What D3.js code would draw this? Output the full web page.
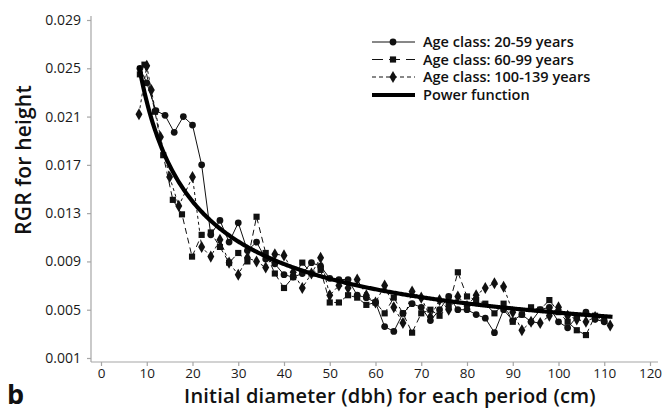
<!DOCTYPE html>
<html>
<head>
<meta charset="utf-8">
<script src="https://cdn.jsdelivr.net/npm/d3@7"></script>
<style>
  html, body { margin: 0; padding: 0; background: #fff; }
  svg { display: block; font-family: "Open Sans", "Noto Sans", sans-serif; }
</style>
</head>
<body>
<svg id="chart" width="670" height="411"></svg>
<script>
// Relative growth rate (RGR) for height against initial diameter, by age class
const xTicks = [0, 10, 20, 30, 40, 50, 60, 70, 80, 90, 100, 110, 120];
const yTicks = [0.001, 0.005, 0.009, 0.013, 0.017, 0.021, 0.025, 0.029];

const dbhYoung = [8.5, 10, 12, 14, 16, 18, 20, 22, 24, 26, 28, 30, 32, 34, 36, 38, 40, 42, 44, 46, 48, 50,
  52, 54, 56, 58, 60, 62, 64, 66, 68, 70, 72, 74, 76, 78, 80, 82, 84, 86, 88, 90, 92, 94, 96, 98, 100,
  102, 104, 106, 108, 110];
const rgrYoung = [0.0250, 0.0238, 0.0215, 0.0211, 0.0197, 0.0210, 0.0203, 0.0170, 0.0112, 0.0124, 0.0106,
  0.0122, 0.0099, 0.0106, 0.0092, 0.0088, 0.0079, 0.0077, 0.0080, 0.0089, 0.0086, 0.0076, 0.0075, 0.0075,
  0.0062, 0.0060, 0.0056, 0.0036, 0.0032, 0.0047, 0.0055, 0.0052, 0.0041, 0.0050, 0.0061, 0.0050, 0.0050,
  0.0046, 0.0043, 0.0031, 0.0050, 0.0041, 0.0046, 0.0040, 0.0050, 0.0052, 0.0040, 0.0035, 0.0044, 0.0048,
  0.0042, 0.0040];

const dbhMiddle = [8.5, 9.5, 11.8, 13.6, 15.7, 17.7, 19.9, 22, 24, 26, 28, 30, 32, 34, 36, 38, 40, 42, 44,
  46, 48, 50, 52, 54, 56, 58, 60, 62, 64, 66, 68, 70, 72, 74, 76, 78, 80, 82, 84, 86, 88, 90, 92, 94, 96,
  98, 100, 102, 104, 106, 108, 110];
const rgrMiddle = [0.0245, 0.0253, 0.0214, 0.0178, 0.0141, 0.0129, 0.0094, 0.0112, 0.0114, 0.0102, 0.0089,
  0.0097, 0.0090, 0.0127, 0.0097, 0.0080, 0.0068, 0.0077, 0.0089, 0.0080, 0.0083, 0.0056, 0.0056, 0.0062,
  0.0060, 0.0054, 0.0056, 0.0047, 0.0060, 0.0047, 0.0031, 0.0047, 0.0050, 0.0045, 0.0053, 0.0081, 0.0061,
  0.0058, 0.0055, 0.0047, 0.0055, 0.0040, 0.0046, 0.0052, 0.0050, 0.0058, 0.0048, 0.0040, 0.0033, 0.0029,
  0.0045, 0.0041];

const dbhOld = [8.3, 10, 11, 13, 15, 17, 20, 22, 24, 26, 28, 30, 32, 34, 36, 38, 40, 42, 44, 46, 48, 50,
  52, 54, 56, 58, 60, 62, 64, 66, 68, 70, 72, 74, 76, 78, 80, 82, 84, 86, 88, 90, 92, 94, 96, 98, 100,
  102, 104, 106, 108, 111.3];
const rgrOld = [0.0212, 0.0252, 0.0232, 0.0193, 0.0160, 0.0136, 0.0160, 0.0102, 0.0094, 0.0108, 0.0089,
  0.0079, 0.0093, 0.0090, 0.0085, 0.0096, 0.0095, 0.0081, 0.0068, 0.0080, 0.0093, 0.0062, 0.0070, 0.0068,
  0.0075, 0.0062, 0.0056, 0.0070, 0.0052, 0.0039, 0.0065, 0.0060, 0.0044, 0.0058, 0.0050, 0.0061, 0.0053,
  0.0062, 0.0068, 0.0072, 0.0069, 0.0048, 0.0033, 0.0040, 0.0039, 0.0045, 0.0052, 0.0045, 0.0042, 0.0040,
  0.0044, 0.0037];

// Fitted power function RGR = a * dbh^b over the observed diameter range
const powerA = 0.104;
const powerB = -0.67;
const powerRange = [8.3, 112];

const seriesNames = ["Age class: 20-59 years", "Age class: 60-99 years", "Age class: 100-139 years", "Power function"];

const svg = d3.select("#chart");
const x = d3.scaleLinear().domain([0, 120]).range([101, 650]);
const y = d3.scaleLinear().domain([0.001, 0.029]).range([358, 20]);
const axisGrey = "#a6a6a6";

// axis lines
svg.append("line").attr("x1", 91).attr("x2", 91).attr("y1", 16).attr("y2", 362)
  .attr("stroke", axisGrey).attr("stroke-width", 1.2);
svg.append("line").attr("x1", 91).attr("x2", 658).attr("y1", 362).attr("y2", 362)
  .attr("stroke", axisGrey).attr("stroke-width", 1.2);

const yAxis = svg.append("g").attr("transform", "translate(91,0)")
  .call(d3.axisLeft(y).tickValues(yTicks).tickFormat(d3.format(".3f")).tickSize(4).tickPadding(6));
const xAxis = svg.append("g").attr("transform", "translate(0,362)")
  .call(d3.axisBottom(x).tickValues(xTicks).tickFormat(d3.format("d")).tickSize(4).tickPadding(2));
[yAxis, xAxis].forEach(g => {
  g.select(".domain").remove();
  g.selectAll(".tick line").attr("stroke", axisGrey).attr("stroke-width", 1.2);
  g.selectAll(".tick text").attr("fill", "#1a1a1a")
    .style("font-family", "'Open Sans', sans-serif");
});
yAxis.selectAll(".tick text").style("font-size", "14px");
xAxis.selectAll(".tick text").style("font-size", "13.5px");

// axis titles
svg.append("text").attr("transform", "translate(31,160) rotate(-90)")
  .attr("text-anchor", "middle").style("font-size", "21px").style("font-weight", 600).attr("fill", "#111")
  .style("letter-spacing", "0.2px")
  .text("RGR for height");
svg.append("text").attr("x", 390).attr("y", 403)
  .attr("text-anchor", "middle").style("font-size", "20px").style("font-weight", 600).attr("fill", "#111")
  .style("letter-spacing", "0.2px")
  .text("Initial diameter (dbh) for each period (cm)");
svg.append("text").attr("x", 7).attr("y", 404)
  .style("font-size", "27px").style("font-weight", 700).attr("fill", "#111").text("b");

// observed series
const lineGen = d3.line().x(d => x(d[0])).y(d => y(d[1]));
const series = [
  { xs: dbhYoung, ys: rgrYoung, dash: null, shape: d3.symbolCircle, size: 36 },
  { xs: dbhMiddle, ys: rgrMiddle, dash: "6,4", shape: d3.symbolSquare, size: 38 },
  { xs: dbhOld, ys: rgrOld, dash: "3,3", shape: d3.symbolDiamond, size: 42 }
];

series.forEach(s => {
  const pts = s.xs.map((v, i) => [v, s.ys[i]]);
  svg.append("path").datum(pts).attr("d", lineGen)
    .attr("fill", "none").attr("stroke", "#111").attr("stroke-width", 1)
    .attr("stroke-dasharray", s.dash);
  svg.append("g").selectAll("path").data(pts).join("path")
    .attr("transform", d => `translate(${x(d[0])},${y(d[1])})`)
    .attr("d", d3.symbol().type(s.shape).size(s.size))
    .attr("fill", "#111");
});

// power function curve
const curveX = d3.range(powerRange[0], powerRange[1] + 0.001, 0.25);
const curvePts = curveX.map(v => [v, powerA * Math.pow(v, powerB)]);
svg.append("path").datum(curvePts).attr("d", lineGen)
  .attr("fill", "none").attr("stroke", "#000").attr("stroke-width", 4.2)
  .attr("stroke-linejoin", "round");

// legend
const legend = svg.append("g");
const legendRows = [42, 59.5, 77, 95];
const legendShapes = [d3.symbolCircle, d3.symbolSquare, d3.symbolDiamond];
const legendDash = [null, "11,6", "4,3"];
legendRows.forEach((ly, i) => {
  if (i < 3) {
    legend.append("line").attr("x1", 372).attr("x2", 415).attr("y1", ly).attr("y2", ly)
      .attr("stroke", "#111").attr("stroke-width", 1).attr("stroke-dasharray", legendDash[i]);
    legend.append("path").attr("transform", `translate(393,${ly})`)
      .attr("d", d3.symbol().type(legendShapes[i]).size(series[i].size)).attr("fill", "#111");
  } else {
    legend.append("line").attr("x1", 372).attr("x2", 415).attr("y1", ly).attr("y2", ly)
      .attr("stroke", "#000").attr("stroke-width", 4);
  }
  legend.append("text").attr("x", 423).attr("y", ly + 5)
    .style("font-size", "14.5px").style("font-weight", 600).attr("fill", "#111")
    .text(seriesNames[i]);
});
</script>
</body>
</html>
